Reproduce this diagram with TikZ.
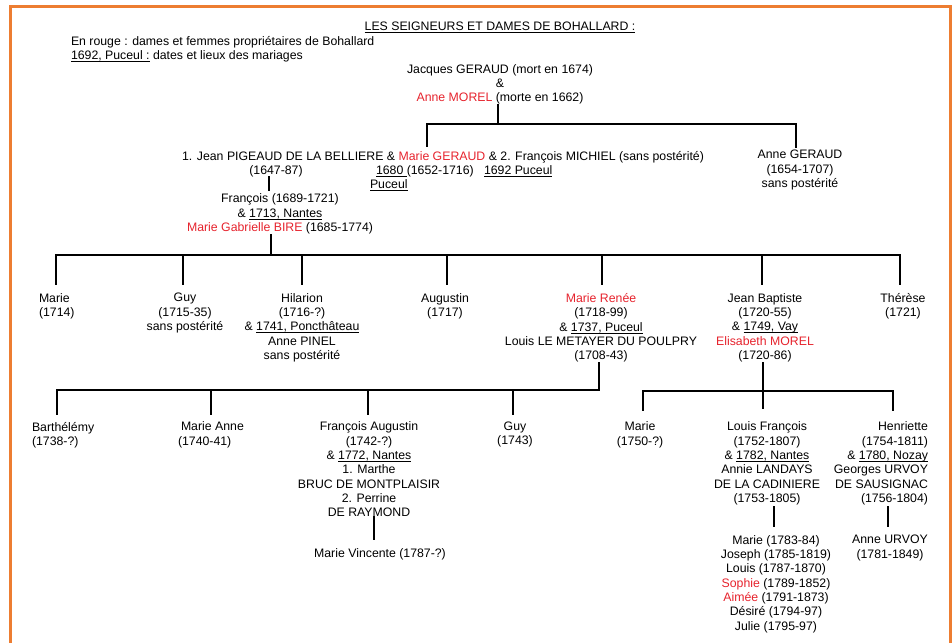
\documentclass[tikz,border=0pt]{standalone}
\usepackage{fontspec}
\setmainfont{Liberation Sans}
\usetikzlibrary{calc}
\definecolor{bred}{RGB}{230,35,45}
\definecolor{frameorange}{RGB}{237,125,49}
\newcommand\rd[1]{\textcolor{bred}{#1}}
\newcommand\undl[1]{\setbox0\hbox{#1}\rlap{\rule[-2.2pt]{\wd0}{0.7pt}}\box0\relax}
\begin{document}
\begin{tikzpicture}[x=1pt,y=-1pt,
  every node/.style={font=\fontsize{12.3}{14.3}\selectfont, inner sep=0pt, outer sep=0pt},
  person/.style={align=center, anchor=north},
  lefttext/.style={align=left, anchor=north west},
  conn/.style={line width=2.8pt, line cap=rect, black}]
\useasboundingbox (0,0) rectangle (952,642);
\begin{scope}
\clip (0,0) rectangle (952,642);
\draw[frameorange, line width=3pt] (10,6.5) rectangle (950.5,700);
\end{scope}

% header
\node[person] (title) at (500,22.4) {\undl{LES SEIGNEURS ET DAMES DE BOHALLARD :}};
\node[lefttext] (legend) at (71,36.4) {En rouge : dames et femmes propriétaires de Bohallard\\\undl{1692, Puceul :} dates et lieux des mariages};

% generation 1
\node[person] (top) at (500,64.2) {Jacques GERAUD (mort en 1674)\\\&\\\rd{Anne MOREL} (morte en 1662)};

% generation 2
\node[person] (jean) at (443,151) {1. Jean PIGEAUD DE LA BELLIERE \& \rd{Marie GERAUD} \& 2. François MICHIEL (sans postérité)};
\node[person] (jeand) at (276,165.4) {(1647-87)};
\node[anchor=north west] (mgd) at (376,165.4) {\undl{1680\ }(1652-1716)};
\node[anchor=north west] (fmd) at (484,165.4) {\undl{1692 Puceul}};
\node[anchor=north west] (puc) at (370,179.4) {\undl{Puceul}};
\node[person] (ager) at (800,150.4) {Anne GERAUD\\(1654-1707)\\sans postérité};
\node[person] (fran) at (280,194) {François (1689-1721)\\\& \undl{1713, Nantes}\\\rd{Marie Gabrielle BIRE} (1685-1774)};

% generation 3
\node[lefttext] (m1714) at (39,293.4) {Marie\\(1714)};
\node[person] (guy1) at (185,293.4) {Guy\\(1715-35)\\sans postérité};
\node[person] (hil) at (302,293.4) {Hilarion\\(1716-?)\\\& \undl{1741, Poncthâteau}\\Anne PINEL\\sans postérité};
\node[person] (aug) at (445,293.4) {Augustin\\(1717)};
\node[person] (mr) at (601,293.4) {\rd{Marie Renée}\\(1718-99)\\\& \undl{1737, Puceul}\\Louis LE METAYER DU POULPRY\\(1708-43)};
\node[person] (jb) at (765,293.4) {Jean Baptiste\\(1720-55)\\\& \undl{1749, Vay}\\\rd{Elisabeth MOREL}\\(1720-86)};
\node[person] (ther) at (903,293.4) {Thérèse\\(1721)};

% generation 4
\node[lefttext] (barth) at (32,422) {Barthélémy\\(1738-?)};
\node[lefttext] (manne) at (178,422) {\hspace*{3pt}Marie Anne\\(1740-41)};
\node[person] (fa) at (369,422) {François Augustin\\(1742-?)\\\& \undl{1772, Nantes}\\1. Marthe\\BRUC DE MONTPLAISIR\\2. Perrine\\DE RAYMOND};
\node[person] (guy2) at (515,422) {Guy\\(1743)};
\node[person] (m1750) at (640,422) {Marie\\(1750-?)};
\node[person] (lf) at (767,422) {Louis François\\(1752-1807)\\\& \undl{1782, Nantes}\\Annie LANDAYS\\DE LA CADINIERE\\(1753-1805)};
\node[align=right, anchor=north east] (hen) at (928,422) {Henriette\\(1754-1811)\\\& \undl{1780, Nozay}\\Georges URVOY\\DE SAUSIGNAC\\(1756-1804)};

% generation 5
\node[person] (mv) at (380,548.4) {Marie Vincente (1787-?)};
\node[person] (lfk) at (776,535.4) {Marie (1783-84)\\Joseph (1785-1819)\\Louis (1787-1870)\\\rd{Sophie} (1789-1852)\\\rd{Aimée} (1791-1873)\\Désiré (1794-97)\\Julie (1795-97)};
\node[person] (annu) at (890,535.4) {Anne URVOY\\(1781-1849)};

% connectors: generation 1 -> 2
\coordinate (b2) at (498,124);
\coordinate (b2L) at (427,124);
\coordinate (b2R) at (796,124);
\draw[conn, shorten <=1pt] (b2 |- top.south) -- (b2);
\draw[conn] (b2L) -- (b2R);
\draw[conn, shorten >=5pt] (b2L) -- (b2L |- jean.north);
\draw[conn, shorten >=4pt] (b2R) -- (b2R |- ager.north);

% Jean -> François
\coordinate (x1) at (269,0);
\draw[conn, shorten <=1pt, shorten >=4pt] (x1 |- jeand.south) -- (x1 |- fran.north);

% François -> generation 3
\coordinate (b3L) at (56,255);
\coordinate (b3R) at (900,255);
\coordinate (b3p) at (271,255);
\draw[conn, shorten <=1pt] (b3p |- fran.south) -- (b3p);
\draw[conn] (b3L) -- (b3R);
\foreach \xd/\nm in {56/m1714,183/guy1,302/hil,447/aug,602/mr,762/jb,900/ther}{
  \coordinate (d) at (\xd,255);
  \draw[conn, shorten >=10pt] (d) -- (d |- \nm.north);
}

% Marie Renée -> generation 4
\coordinate (b4p) at (599,390);
\coordinate (b4L) at (57,390);
\draw[conn, shorten <=1pt] (b4p |- mr.south) -- (b4p);
\draw[conn] (b4L) -- (b4p);
\foreach \xd/\nm in {57/barth,211/manne,368/fa,513/guy2}{
  \coordinate (d) at (\xd,390);
  \draw[conn, shorten >=8pt] (d) -- (d |- \nm.north);
}

% Jean Baptiste -> generation 4
\coordinate (b5c) at (763,391);
\coordinate (b5L) at (643,391);
\coordinate (b5R) at (893,391);
\draw[conn, shorten <=1pt, shorten >=14pt] (b5c |- jb.south) -- (b5c |- lf.north);
\draw[conn] (b5L) -- (b5R);
\foreach \xd/\nm in {643/m1750,893/hen}{
  \coordinate (d) at (\xd,391);
  \draw[conn, shorten >=12pt] (d) -- (d |- \nm.north);
}

% generation 4 -> 5
\coordinate (x5) at (374,0);
\draw[conn, shorten <=1pt, shorten >=10pt] (x5 |- fa.south) -- (x5 |- mv.north);
\coordinate (x6) at (774,0);
\draw[conn, shorten <=2pt, shorten >=10pt] (x6 |- lf.south) -- (x6 |- lfk.north);
\coordinate (x7) at (888,0);
\draw[conn, shorten <=2pt, shorten >=10pt] (x7 |- hen.south) -- (x7 |- annu.north);
\end{tikzpicture}
\end{document}
